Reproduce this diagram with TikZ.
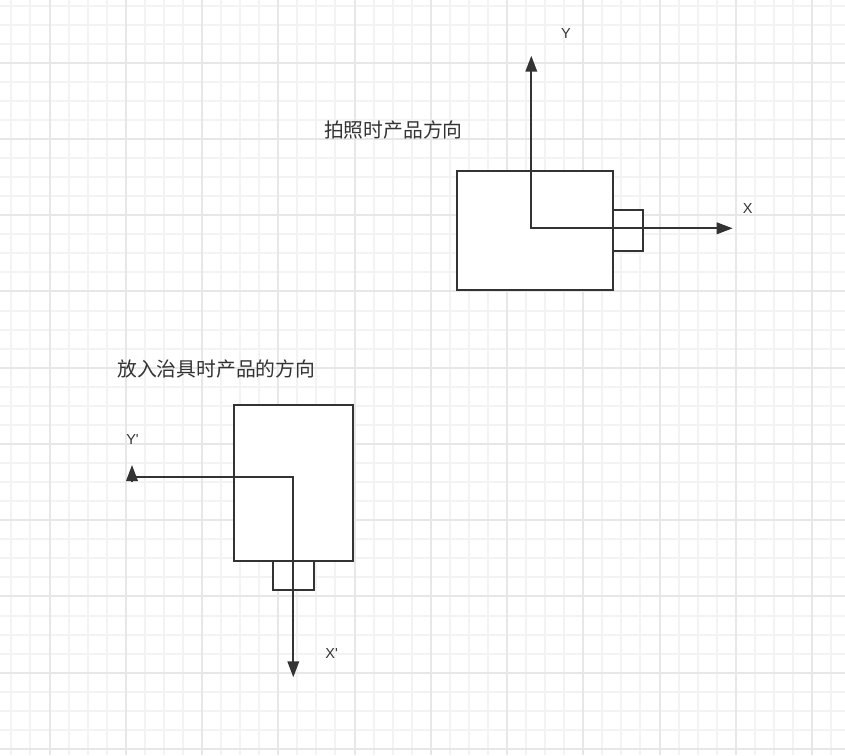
\documentclass[tikz,border=0pt]{standalone}
\usepackage{fontspec}
\setmainfont{Liberation Sans}[Ligatures=TeXOff]
\newfontfamily\cjk{Noto Sans CJK SC}
\usepackage{tikz}
\usetikzlibrary{arrows.meta,positioning}
\definecolor{ink}{HTML}{333333}
\definecolor{gridminor}{HTML}{F3F3F3}
\definecolor{gridmajor}{HTML}{E7E7E7}
\tikzstyle{part} = [rectangle, draw=ink, line width=2pt, fill=white, outer sep=0pt, inner sep=0pt]
\tikzstyle{caption} = [draw=none, fill=none, text=ink, font=\cjk\fontsize{19.8}{23}\selectfont, inner sep=0pt]
\tikzstyle{axislabel} = [draw=none, fill=none, text=ink, font=\fontsize{14.5}{17}\selectfont, inner sep=0pt]
\tikzstyle{tedge}  = [draw=ink, line width=2pt, >={Triangle[length=16pt,width=11.5pt]}]

\begin{document}
\begin{tikzpicture}[x=1pt, y=-1pt]
\useasboundingbox (0,0) rectangle (845,755);
\fill[white] (0,0) rectangle (845,755);

% grid =============================
\foreach \i in {0,...,43} \draw[gridminor, line width=2pt] ({11.4+19.0625*\i},0) -- ++(0,755);
\foreach \i in {0,...,39} \draw[gridminor, line width=2pt] (0,{5.5+19.0625*\i}) -- ++(845,0);
\foreach \i in {0,...,10} \draw[gridmajor, line width=2pt] ({49.5+76.25*\i},0) -- ++(0,755);
\foreach \i in {0,...,9} \draw[gridmajor, line width=2pt] (0,{62.7+76.25*\i}) -- ++(845,0);

% photo orientation =============================
\node[part, minimum width=156pt, minimum height=119pt] (body) at (535.3,230.5) {};
\node[part, minimum width=29.7pt, minimum height=41.7pt, right=0pt of body] (plug) {};
\node[caption] (photo) at (393.3,129.5) {拍照时产品方向};
\node[axislabel] (ylab) at (566,34) {Y};
\node[axislabel] (xlab) at (747.8,208.7) {X};
\coordinate (o) at (531.3,228.3);
\coordinate (ytip) at (531.3,55.7);
\coordinate (xtip) at (732.7,228.3);

% jig orientation =============================
\node[part, minimum width=119pt, minimum height=156pt] (jigbody) at (293.8,483) {};
\node[part, minimum width=41.3pt, minimum height=29pt, below=0pt of jigbody] (jigplug) {};
\node[caption] (jig) at (216.2,368.7) {放入治具时产品的方向};
\node[axislabel] (yplab) at (132.5,440) {Y'};
\node[axislabel] (xplab) at (331.7,654) {X'};
\coordinate (op) at (293.3,476.7);
\coordinate (ypend) at (132,476.7);
\coordinate (ypfoot) at (132,481.7);
\coordinate (yptip) at (132,465);
\coordinate (xptip) at (293.3,677.3);

% edges
\path[tedge, <->] (ytip) -- (o) -- (xtip);
\path[tedge, ->] (ypend) -- (op) -- (xptip);
\path[tedge, ->] (ypfoot) -- (yptip);

\end{tikzpicture}
\end{document}
